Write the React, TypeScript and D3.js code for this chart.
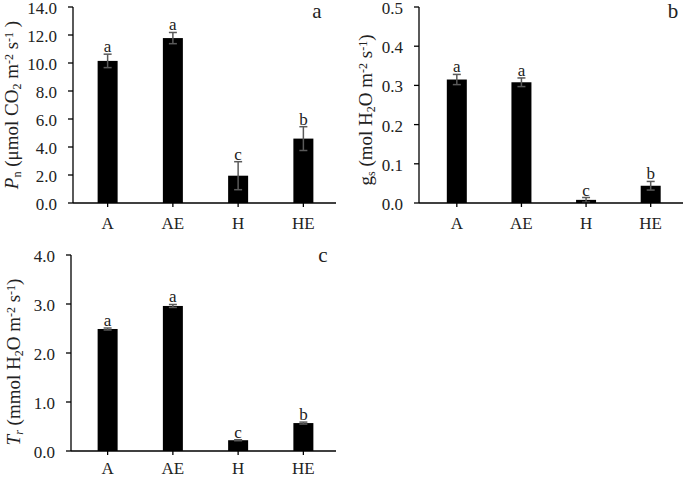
import { useEffect, useRef } from 'react'
import * as d3 from 'd3'

const categories = ['A', 'AE', 'H', 'HE']

// panel a: net photosynthesis
const pnMeans = [10.15, 11.78, 1.95, 4.6]
const pnErrors = [0.48, 0.4, 1.0, 0.85]
const pnLetters = ['a', 'a', 'c', 'b']
const pnTicks = [0, 2, 4, 6, 8, 10, 12, 14]

// panel b: stomatal conductance
const gsMeans = [0.315, 0.308, 0.008, 0.044]
const gsErrors = [0.013, 0.011, 0.006, 0.011]
const gsLetters = ['a', 'a', 'c', 'b']
const gsTicks = [0, 0.1, 0.2, 0.3, 0.4, 0.5]

// panel c: transpiration
const trMeans = [2.49, 2.96, 0.22, 0.57]
const trErrors = [0.02, 0.03, 0.01, 0.02]
const trLetters = ['a', 'a', 'c', 'b']
const trTicks = [0, 1, 2, 3, 4]

const FONT = 'Liberation Serif, serif'

type Part = { t: string; italic?: boolean; shift?: 'sub' | 'super' }

interface PanelSpec {
  means: number[]
  errors: number[]
  letters: string[]
  ticks: number[]
  tickFmt: (v: number) => string
  x0: number // y axis position
  xStart: number // band range start
  xEnd: number
  yTop: number
  yBottom: number
  labelGap: number
  tag: string
  tagX: number
  tagY: number
  title: Part[]
  titleX: number
  titleY: number
}

function drawPanel(svg: d3.Selection<SVGSVGElement, unknown, null, undefined>, p: PanelSpec) {
  const g = svg.append('g').style('font-family', FONT).attr('fill', '#222')
  const yMax = p.ticks[p.ticks.length - 1]
  const y = d3.scaleLinear().domain([0, yMax]).range([p.yBottom, p.yTop])
  const x = d3.scaleBand().domain(categories).range([p.xStart, p.xEnd])
  const barW = 20

  // bars
  g.selectAll('rect.bar')
    .data(categories)
    .join('rect')
    .attr('x', d => x(d)! + x.bandwidth() / 2 - barW / 2)
    .attr('y', (_, i) => y(p.means[i]))
    .attr('width', barW)
    .attr('height', (_, i) => p.yBottom - y(p.means[i]))
    .attr('fill', '#000')

  // error bars + letters
  categories.forEach((c, i) => {
    const cx = x(c)! + x.bandwidth() / 2
    const hi = y(p.means[i] + p.errors[i])
    const lo = y(Math.max(0, p.means[i] - p.errors[i]))
    const eb = g.append('g').attr('stroke', '#5a5a5a').attr('stroke-width', 1.5)
    eb.append('line').attr('x1', cx).attr('x2', cx).attr('y1', hi).attr('y2', lo)
    eb.append('line').attr('x1', cx - 4).attr('x2', cx + 4).attr('y1', hi).attr('y2', hi)
    eb.append('line').attr('x1', cx - 4).attr('x2', cx + 4).attr('y1', lo).attr('y2', lo)

    g.append('text')
      .attr('x', cx)
      .attr('y', hi - 2)
      .attr('text-anchor', 'middle')
      .attr('font-size', 17)
      .text(p.letters[i])
  })

  // axes
  const axis = g.append('g').attr('stroke', '#000').attr('stroke-width', 1.3)
  axis.append('line').attr('x1', p.x0).attr('x2', p.x0).attr('y1', p.yTop).attr('y2', p.yBottom)
  axis.append('line').attr('x1', p.x0).attr('x2', p.xEnd).attr('y1', p.yBottom).attr('y2', p.yBottom)
  p.ticks.forEach(t => {
    axis.append('line').attr('x1', p.x0 - 5).attr('x2', p.x0).attr('y1', y(t)).attr('y2', y(t))
    g.append('text')
      .attr('x', p.x0 - 16)
      .attr('y', y(t) + 1)
      .attr('dy', '0.35em')
      .attr('text-anchor', 'end')
      .attr('font-size', 17)
      .text(p.tickFmt(t))
  })

  categories.forEach(c => {
    const cx = x(c)! + x.bandwidth() / 2
    axis.append('line').attr('x1', cx).attr('x2', cx).attr('y1', p.yBottom).attr('y2', p.yBottom + 4)
    g.append('text')
      .attr('x', cx)
      .attr('y', p.yBottom + p.labelGap)
      .attr('text-anchor', 'middle')
      .attr('font-size', 17)
      .text(c)
  })

  // panel tag
  g.append('text')
    .attr('x', p.tagX)
    .attr('y', p.tagY)
    .attr('text-anchor', 'middle')
    .attr('font-size', 21)
    .text(p.tag)

  // y title
  const title = g.append('text')
    .attr('transform', `translate(${p.titleX},${p.titleY}) rotate(-90)`)
    .attr('text-anchor', 'middle')
    .attr('font-size', 19)
  p.title.forEach(part => {
    const ts = title.append('tspan').text(part.t)
    if (part.italic) ts.attr('font-style', 'italic')
    if (part.shift) {
      ts.attr('font-size', 12).attr('baseline-shift', part.shift === 'sub' ? '-25%' : '45%')
    }
  })
}

export default function App() {
  const svgRef = useRef<SVGSVGElement>(null)

  useEffect(() => {
    if (!svgRef.current) return
    const svg = d3.select(svgRef.current)
    svg.selectAll('*').remove()

    drawPanel(svg, {
      means: pnMeans, errors: pnErrors, letters: pnLetters, ticks: pnTicks,
      tickFmt: d3.format('.1f'),
      x0: 73, xStart: 75, xEnd: 336, yTop: 7, yBottom: 203, labelGap: 26,
      tag: 'a', tagX: 317, tagY: 18,
      title: [
        { t: 'P', italic: true }, { t: 'n', shift: 'sub' },
        { t: ' (μmol CO' }, { t: '2', shift: 'sub' }, { t: ' m' }, { t: '-2', shift: 'super' },
        { t: ' s' }, { t: '-1', shift: 'super' }, { t: ' )' },
      ],
      titleX: 18, titleY: 105,
    })

    drawPanel(svg, {
      means: gsMeans, errors: gsErrors, letters: gsLetters, ticks: gsTicks,
      tickFmt: d3.format('.1f'),
      x0: 419, xStart: 424.5, xEnd: 683, yTop: 7, yBottom: 203, labelGap: 26,
      tag: 'b', tagX: 673, tagY: 18,
      title: [
        { t: 'g' }, { t: 's', shift: 'sub' },
        { t: ' (mol H' }, { t: '2', shift: 'sub' }, { t: 'O m' }, { t: '-2', shift: 'super' },
        { t: ' s' }, { t: '-1', shift: 'super' }, { t: ')' },
      ],
      titleX: 372, titleY: 110,
    })

    drawPanel(svg, {
      means: trMeans, errors: trErrors, letters: trLetters, ticks: trTicks,
      tickFmt: d3.format('.1f'),
      x0: 71, xStart: 75, xEnd: 336, yTop: 255, yBottom: 451, labelGap: 23,
      tag: 'c', tagX: 323, tagY: 262,
      title: [
        { t: 'T', italic: true }, { t: 'r', italic: true, shift: 'sub' },
        { t: ' (mmol H' }, { t: '2', shift: 'sub' }, { t: 'O m' }, { t: '-2', shift: 'super' },
        { t: ' s' }, { t: '-1', shift: 'super' }, { t: ')' },
      ],
      titleX: 20, titleY: 362,
    })
  }, [])

  return (
    <svg
      ref={svgRef}
      width={685}
      height={479}
      style={{ position: 'absolute', left: 0, top: 0, background: '#fff' }}
    />
  )
}
